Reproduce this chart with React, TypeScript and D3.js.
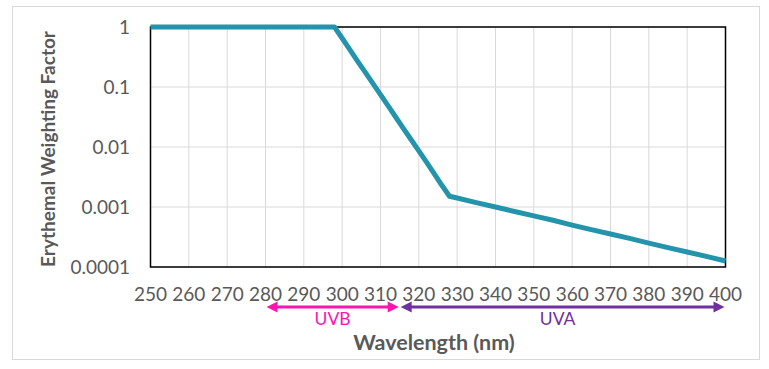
import React from "react";
import * as d3 from "d3";

const wavelengths = [250, 260, 270, 280, 290, 298, 300, 302, 304, 306, 308, 310, 312, 314, 316, 318, 320, 322, 324, 326, 328, 330, 335, 340, 345, 350, 355, 360, 365, 370, 375, 380, 385, 390, 395, 400];
const weights = [1, 1, 1, 1, 1, 1, 0.65, 0.42, 0.27, 0.177, 0.115, 0.0745, 0.0483, 0.0313, 0.0203, 0.0132, 0.0086, 0.0056, 0.0036, 0.0023, 0.00151, 0.00141, 0.00118, 0.001, 0.00084, 0.00071, 0.0006, 0.0005, 0.00042, 0.000355, 0.0003, 0.00025, 0.00021, 0.000178, 0.00015, 0.000126];
const xTicks = [250, 260, 270, 280, 290, 300, 310, 320, 330, 340, 350, 360, 370, 380, 390, 400];
const yTicks = [1, 0.1, 0.01, 0.001, 0.0001];
const yTickLabels = ["1", "0.1", "0.01", "0.001", "0.0001"];
const bands = [
  { name: "UVB", from: 280, to: 315, color: "#FF14B0" },
  { name: "UVA", from: 315, to: 400, color: "#7030A0" },
];

export default function App() {
  const W = 769, H = 369;
  const left = 150.5, right = 725.5, top = 27, bottom = 267;
  const x = d3.scaleLinear().domain([250, 400]).range([left, right]);
  const y = d3.scaleLog().domain([0.0001, 1]).range([bottom, top]);
  const data = wavelengths.map((w, i) => [w, weights[i]] as [number, number]);
  const line = d3.line<[number, number]>().x(d => x(d[0])).y(d => y(d[1]));
  const font = "Lato, 'Open Sans', sans-serif";
  const grey = "#595959";
  const arrowY = 307;
  const headLen = 11, headHalf = 5.5;
  return (
    <div style={{ position: "absolute", left: 0, top: 0 }}>
      <svg width={W} height={H} style={{ display: "block" }}>
        <rect x={0} y={0} width={W} height={H} fill="#fff" />
        <rect x={12.5} y={6.5} width={747} height={353} fill="none" stroke="#D9D9D9" strokeWidth={1} />
        {xTicks.map(t => (
          <line key={"gx" + t} x1={x(t)} x2={x(t)} y1={top} y2={bottom} stroke="#D9D9D9" strokeWidth={1} />
        ))}
        {yTicks.map(t => (
          <line key={"gy" + t} x1={left} x2={right} y1={y(t)} y2={y(t)} stroke="#D9D9D9" strokeWidth={1} />
        ))}
        <rect x={left} y={top} width={right - left} height={bottom - top} fill="none" stroke="#000" strokeWidth={1.5} />
        <path d={line(data) || ""} fill="none" stroke="#2394AB" strokeWidth={5} strokeLinejoin="round" />
        {yTicks.map((t, i) => (
          <text key={"yl" + t} x={130} y={y(t)} dy="0.36em" textAnchor="end" fontFamily={font} fontSize={19} fill={grey}>
            {yTickLabels[i]}
          </text>
        ))}
        {xTicks.map(t => (
          <text key={"xl" + t} x={x(t)} y={301} textAnchor="middle" fontFamily={font} fontSize={19} fill={grey}>
            {t}
          </text>
        ))}
        {bands.map(b => {
          const x0 = x(b.from) + 1, x1 = x(b.to) - 1;
          return (
            <g key={b.name}>
              <line x1={x0 + headLen - 1} x2={x1 - headLen + 1} y1={arrowY} y2={arrowY} stroke={b.color} strokeWidth={3} />
              <path d={`M${x0},${arrowY} L${x0 + headLen},${arrowY - headHalf} L${x0 + headLen},${arrowY + headHalf} Z`} fill={b.color} />
              <path d={`M${x1},${arrowY} L${x1 - headLen},${arrowY - headHalf} L${x1 - headLen},${arrowY + headHalf} Z`} fill={b.color} />
              <text x={b.name === "UVA" ? x((b.from + b.to) / 2) - 5 : x((b.from + b.to) / 2)} y={325} textAnchor="middle" fontFamily={font} fontSize={17.5} fill={b.color}>
                {b.name}
              </text>
            </g>
          );
        })}
        <text x={434} y={350} textAnchor="middle" fontFamily={font} fontWeight="bold" fontSize={21.5} fill={grey}>
          Wavelength (nm)
        </text>
        <text transform={`translate(55,149) rotate(-90)`} textAnchor="middle" fontFamily={font} fontWeight="bold" fontSize={19} fill={grey}>
          Erythemal Weighting Factor
        </text>
      </svg>
    </div>
  );
}
